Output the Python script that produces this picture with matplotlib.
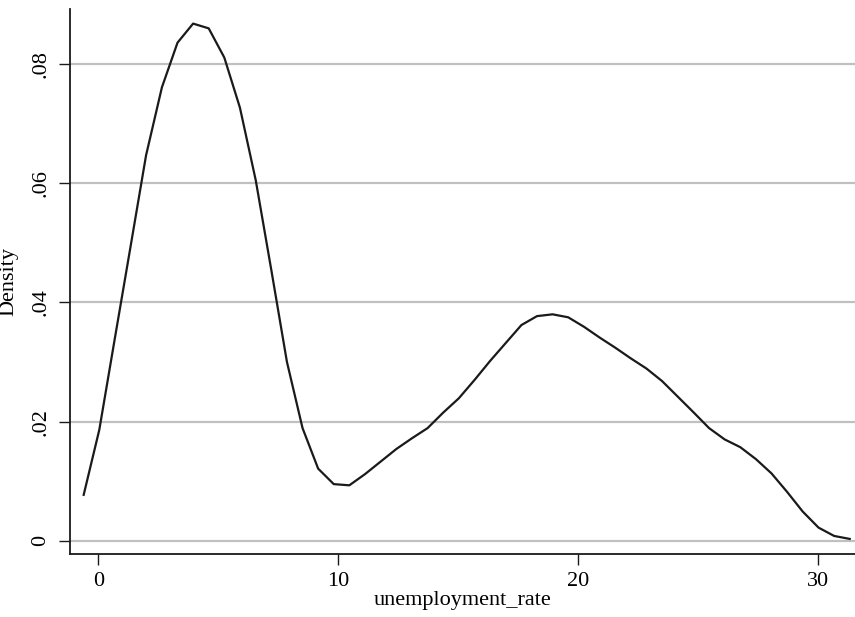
import matplotlib
matplotlib.use("Agg")
from matplotlib import pyplot as plt

plt.rcParams['font.family'] = ['Liberation Serif', 'DejaVu Serif']

# kernel density estimate, 50 evaluation points
rate = [-0.61, 0.04, 0.69, 1.34, 1.99, 2.65, 3.30, 3.95, 4.60, 5.25,
        5.90, 6.56, 7.21, 7.86, 8.51, 9.16, 9.81, 10.46, 11.12, 11.77,
        12.42, 13.07, 13.72, 14.37, 15.02, 15.68, 16.33, 16.98, 17.63, 18.28,
        18.93, 19.58, 20.24, 20.89, 21.54, 22.19, 22.84, 23.49, 24.14, 24.79,
        25.45, 26.10, 26.75, 27.40, 28.05, 28.70, 29.35, 30.01, 30.66, 31.31]
density = [0.0077, 0.0186, 0.0340, 0.0493, 0.0647, 0.0761, 0.0836, 0.0868, 0.0860, 0.0811,
           0.0727, 0.0605, 0.0454, 0.0300, 0.0189, 0.0121, 0.0095, 0.0093, 0.0112, 0.0133,
           0.0154, 0.0172, 0.0189, 0.0215, 0.0239, 0.0270, 0.0302, 0.0332, 0.0362, 0.0377,
           0.0380, 0.0375, 0.0359, 0.0341, 0.0324, 0.0306, 0.0289, 0.0268, 0.0242, 0.0216,
           0.0189, 0.0170, 0.0157, 0.0137, 0.0113, 0.0082, 0.0049, 0.0022, 0.0008, 0.0003]

xticks = [0, 10, 20, 30]
yticks = [0, 0.02, 0.04, 0.06, 0.08]
ytick_labels = ['0', '.02', '.04', '.06', '.08']

fig = plt.figure(figsize=(8.55, 6.17), dpi=100)
ax = fig.add_axes([70/855, 63/617, 785/855, 544.7/617])

ax.plot(rate, density, '-', color='#1a1a1a', lw=1.6, zorder=3)

ax.set_xlim(-1.18, 31.53)
ax.set_ylim(-0.00223, 0.0892)
ax.set_xticks(xticks)
ax.set_yticks(yticks)
ax.set_yticklabels(ytick_labels, rotation=90, va='center')
ax.grid(axis='y', color='#c0c0c0', lw=1.6)
ax.set_axisbelow(True)

for s in ['top', 'right']:
    ax.spines[s].set_visible(False)
for s in ['left', 'bottom']:
    ax.spines[s].set_linewidth(1.3)
    ax.spines[s].set_color('#1a1a1a')

ax.tick_params(axis='both', labelsize=16, length=8, width=1.0, color='#1a1a1a')
ax.tick_params(axis='x', pad=5)
ax.tick_params(axis='y', pad=6)

ax.set_xlabel('unemployment_rate', fontsize=16)
ax.set_ylabel('Density', fontsize=16)
ax.xaxis.set_label_coords(0.5, -0.068)
ax.yaxis.set_label_coords(-0.066, 0.5)

fig.savefig('out.png', dpi=100)
